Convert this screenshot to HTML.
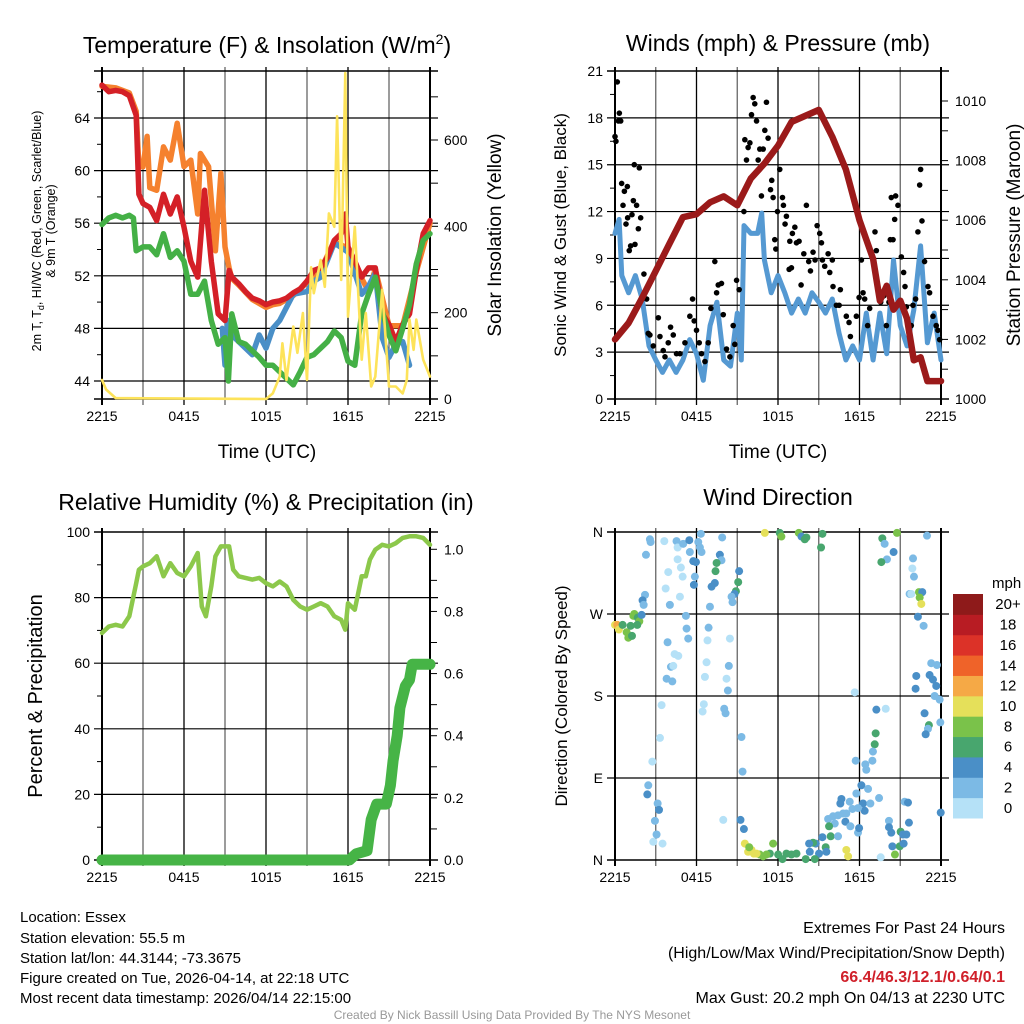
<!DOCTYPE html>
<html><head><meta charset="utf-8"><style>
body{margin:0;background:#fff;}
svg{display:block;font-family:"Liberation Sans",sans-serif;}
</style></head><body>
<svg id="s" width="1024" height="1024" viewBox="0 0 1024 1024" xmlns="http://www.w3.org/2000/svg">
<rect width="1024" height="1024" fill="#fff"/>
<text x="267" y="53" font-size="23" text-anchor="middle">Temperature (F) &amp; Insolation (W/m<tspan font-size="14" dy="-9">2</tspan><tspan dy="9">)</tspan></text>
<text x="778" y="51" font-size="23" text-anchor="middle">Winds (mph) &amp; Pressure (mb)</text>
<text x="266" y="510" font-size="23" text-anchor="middle">Relative Humidity (%) &amp; Precipitation (in)</text>
<text x="778" y="505" font-size="23" text-anchor="middle">Wind Direction</text>
<text x="267" y="458" font-size="19" text-anchor="middle">Time (UTC)</text>
<text x="778" y="458" font-size="19" text-anchor="middle">Time (UTC)</text>
<text transform="translate(41,231) rotate(-90)" font-size="12.5" text-anchor="middle">2m T, T<tspan font-size="9" dy="3">d</tspan><tspan dy="-3">, HI/WC (Red, Green, Scarlet/Blue)</tspan></text>
<text transform="translate(55,231) rotate(-90)" font-size="12.5" text-anchor="middle">&amp; 9m T (Orange)</text>
<text transform="translate(501,235) rotate(-90)" font-size="19" text-anchor="middle">Solar Insolation (Yellow)</text>
<text transform="translate(566,235) rotate(-90)" font-size="17" text-anchor="middle">Sonic Wind &amp; Gust (Blue, Black)</text>
<text transform="translate(1020,235) rotate(-90)" font-size="19" text-anchor="middle">Station Pressure (Maroon)</text>
<text transform="translate(42,696) rotate(-90)" font-size="20" text-anchor="middle">Percent &amp; Precipitation</text>
<text transform="translate(567,696) rotate(-90)" font-size="17" text-anchor="middle">Direction (Colored By Speed)</text>
<g font-size="15">
<text x="20" y="922">Location: Essex</text>
<text x="20" y="943">Station elevation: 55.5 m</text>
<text x="20" y="963">Station lat/lon: 44.3144; -73.3675</text>
<text x="20" y="983">Figure created on Tue, 2026-04-14, at 22:18 UTC</text>
<text x="20" y="1003">Most recent data timestamp: 2026/04/14 22:15:00</text>
</g>
<g font-size="16" text-anchor="end">
<text x="1005" y="933">Extremes For Past 24 Hours</text>
<text x="1005" y="958">(High/Low/Max Wind/Precipitation/Snow Depth)</text>
<text x="1005" y="982" fill="#d0202a" font-weight="bold">66.4/46.3/12.1/0.64/0.1</text>
<text x="1005" y="1003">Max Gust: 20.2 mph On 04/13 at 2230 UTC</text>
</g>
<text x="512" y="1019" font-size="12" fill="#999" text-anchor="middle">Created By Nick Bassill Using Data Provided By The NYS Mesonet</text>
</svg>
<script>
// ---------- data ----------
const xTickLabels=["2215","0415","1015","1615","2215"];
const tempHours=[0,0.5,1,1.5,2,2.5,2.7,3,3.5,4,4.5,5,5.5,6,6.5,7,7.5,8,8.5,9,9.3,9.5,10,10.5,11,11.5,12,12.5,13,13.5,14,14.5,15,15.5,16,16.5,17,17.5,17.8,18,18.5,19,19.5,20,20.5,21,21.5,22,22.5,23,23.5,24];
const airTemp=[66.5,66.0,66.1,66.0,65.7,64.2,58.2,57.5,57.2,56.2,58.2,56.7,58.0,55.7,53.1,51.9,58.5,53.1,49.1,48.6,52.4,51.9,51.4,50.8,50.3,50.1,49.8,50.0,50.1,50.3,50.7,51.0,51.6,52.4,52.6,53.4,54.7,55.2,56.7,54.2,53.1,51.9,52.6,52.6,49.1,48.3,47.0,48.3,49.1,52.4,55.2,56.2];
const temp9mHours=[0,1,2,2.5,2.7,3,3.3,3.5,4,4.5,5,5.5,6,6.5,7,7.2,7.8,8.3,8.7,9,9.3,9.5,10,11,12,12.5,13,14,15,16,17,18,19,19.5,20,21,22,23,24];
const temp9m=[66.4,66.3,65.9,64.5,60.3,60.3,62.6,58.7,58.5,61.8,60.8,63.6,60.3,60.8,56.7,61.3,60.3,53.9,59.8,54.2,52.6,51.8,51.3,50.2,49.6,49.8,49.9,50.5,51.5,52.5,54.6,54.1,51.8,50.8,52.5,48.2,48.2,52.3,56.0];
const wcHours=[8.8,9,9.2,9.5,10,10.5,11,11.5,12,12.5,13,13.5,14,15,15.5,16,16.5,17,18,19,19.5,20,20.5,21,21.5,22,22.5];
const windChill=[48.0,45.2,48.6,47.5,47.0,46.5,46.0,47.5,46.5,48.0,48.6,49.6,50.6,50.8,51.6,51.9,53.2,54.5,53.8,50.6,51.2,52.2,47.3,45.8,46.8,47.0,45.2];
const dewHours=[0,0.5,1,1.5,2,2.3,2.5,3,3.5,4,4.5,5,5.5,6,6.5,7,7.5,8,8.5,9,9.25,9.5,10,10.5,11,11.5,12,12.5,13,13.5,14,14.5,15,15.5,16,16.5,17,17.5,18,18.5,19,19.5,20,20.5,21,21.5,22,22.5,23,23.5,24];
const dewPoint=[55.9,56.4,56.6,56.4,56.6,56.4,53.9,54.2,54.2,53.6,55.2,53.4,53.9,53.1,50.6,50.6,51.6,48.6,46.8,47.3,44.0,49.1,47.0,46.8,46.3,45.8,45.2,45.2,44.7,44.2,43.7,44.7,45.8,46.0,46.5,47.0,47.8,47.3,45.5,45.2,49.1,50.6,51.9,49.3,47.5,46.3,48.0,49.8,52.9,54.7,55.2];
const solarHours=[0,0.3,1,12,12.5,13,13.2,13.5,14,14.3,14.7,15,15.3,15.5,16,16.3,16.6,17,17.2,17.5,17.8,18,18.5,19,19.3,19.7,20,20.5,21,21.5,22,22.3,22.5,22.8,23,23.5,24];
const solar=[44,22,2,0,13,52,129,44,168,107,199,44,305,245,322,260,430,399,655,276,755,191,399,91,199,29,52,253,29,29,13,44,184,114,184,91,52];
const presHours=[0,1,2,3,4,5,6,7,8,9,10,11,12,13,14,15,16,17,18,19,19.5,20,20.5,21,21.5,22,22.5,23,24];
const pressure=[1002.0,1002.55,1003.4,1004.3,1005.2,1006.1,1006.2,1006.6,1006.8,1006.5,1007.4,1007.9,1008.5,1009.3,1009.5,1009.7,1008.8,1007.7,1006.0,1004.7,1003.3,1003.8,1003.0,1003.3,1002.7,1001.3,1001.4,1000.6,1000.6];
const windHours=[0,0.3,0.5,1,1.5,2,2.5,3,3.5,4,4.5,5,5.5,6,6.5,7,7.5,8,8.5,9,9.3,9.5,10,10.5,10.8,11,11.5,12,12.5,13,13.5,14,14.5,15,15.5,16,16.5,17,17.5,18,18.5,19,19.5,20,20.5,21,21.5,22,22.5,23,23.5,24];
const windSpeed=[10.6,11.5,7.9,6.8,7.9,6.4,3.4,2.5,1.7,2.5,1.7,2.5,3.8,2.9,1.2,4.7,6.2,2.5,2.1,5.5,2.5,11.1,10.6,10.6,11.9,8.9,6.8,7.9,6.8,5.5,6.4,5.5,6.8,6.2,5.5,6.4,4.2,2.5,3.4,2.5,5.5,2.5,5.5,2.9,8.9,4.7,3.4,5.7,9.8,3.6,5.5,2.5];
const gustHours=[0,0.07,0.17,0.25,0.32,0.42,0.49,0.59,0.69,0.91,0.81,0.93,1.05,1.15,1.25,1.35,1.42,1.47,1.59,1.72,1.79,1.89,2.13,2.33,2.45,2.57,2.82,3.19,3.31,3.55,3.68,3.92,4.09,4.29,4.53,4.78,5.15,5.51,5.71,5.83,6.0,6.2,6.37,6.62,6.86,7.06,7.35,7.48,7.6,7.84,7.97,8.21,8.46,8.7,8.82,8.95,9.14,9.49,9.56,9.68,9.8,9.93,10.05,10.17,10.29,10.42,10.54,10.66,10.91,11.03,11.15,11.27,10.78,11.45,11.54,11.64,11.76,11.84,11.96,12.13,12.33,12.4,12.52,12.62,12.87,13.06,13.24,13.36,13.55,12.82,12.99,13.7,13.9,14.09,14.26,14.39,14.58,14.73,14.88,15.07,15.2,15.27,15.44,15.69,15.81,16.0,16.05,16.3,16.5,16.59,17.03,17.23,17.33,17.77,17.97,18.14,18.26,18.38,18.6,18.75,19.14,19.24,19.56,19.78,19.98,20.17,20.27,20.34,20.47,20.59,20.66,20.83,21.08,21.25,21.35,21.45,21.81,21.94,22.13,22.3,22.43,22.5,22.6,22.79,23.04,23.16,23.41,23.65,23.77,23.9];
const gustSpeed=[16.8,16.5,20.3,17.8,18.3,17.8,13.8,12.4,13.3,13.6,11.2,11.6,9.5,9.8,11.8,12.7,15.0,9.9,12.4,10.9,14.8,11.6,8.0,6.4,4.2,4.1,3.4,5.2,4.0,3.1,2.7,3.6,4.6,4.1,2.9,2.9,3.6,5.3,6.4,5.0,4.4,3.6,2.9,2.4,3.6,5.8,8.8,6.8,7.3,7.4,5.4,3.2,2.7,4.7,3.5,7.6,7.0,12.0,16.6,15.3,16.1,16.4,18.2,19.3,18.9,17.8,15.3,16.0,16.0,17.2,19.0,16.7,13.0,13.4,14.0,12.9,10.2,9.6,12.0,14.7,12.9,12.4,11.2,11.7,10.1,10.6,11.0,10.0,10.1,8.3,8.4,7.3,9.3,12.4,8.8,8.2,9.4,8.9,11.1,10.6,10.0,8.9,8.5,9.3,8.1,8.9,7.2,6.0,6.0,7.0,5.3,4.9,4.0,5.3,6.5,8.9,6.8,6.4,4.7,5.8,10.7,9.5,6.2,6.6,4.7,6.2,10.2,12.9,10.2,11.5,13.0,12.4,9.1,8.1,7.2,5.9,4.7,6.0,6.4,10.7,13.7,14.7,11.4,8.8,7.2,6.8,5.3,4.7,4.4,3.8];
const rhHours=[0,0.5,1,1.5,2,2.5,2.7,3,3.5,4,4.5,5,5.5,6,6.5,7,7.3,7.6,8,8.3,8.7,9,9.3,9.6,10,10.5,11,11.5,12,12.5,13,13.5,14,14.5,15,15.5,16,16.5,17,17.5,17.8,18,18.5,19,19.3,19.6,20,20.5,21,21.5,22,22.5,23,23.5,24];
const relHumidity=[69.2,71.2,71.7,71.2,74.3,84.4,88.5,89.5,90.5,92.6,86.5,90.5,87.5,86.5,89.5,93.6,77.3,74.3,83.4,92.6,95.6,95.6,95.6,88.5,86.5,86.0,85.5,86.0,84.4,83.4,84.9,83.4,79.3,77.3,76.3,77.3,78.3,77.3,74.3,73.2,70.2,78.3,76.3,86.5,86.5,91.6,94.6,96.1,95.6,96.6,98.2,98.7,98.7,98.2,96.1];
const precipHours=[0,18.1,18.6,19.4,19.7,20.1,20.8,21.1,21.3,21.6,21.8,22.2,22.5,22.7,24];
const precip=[0,0,0.02,0.03,0.13,0.18,0.18,0.24,0.32,0.40,0.49,0.56,0.58,0.63,0.63];
const dirHours=[2.57,2.62,3.63,4.53,4.61,5.02,5.47,6.13,6.32,6.25,6.37,7.89,2.28,5.51,5.76,5.96,4.61,4.85,3.92,4.98,5.88,5.81,3.73,4.78,4.04,2.21,2.03,2.11,7.72,7.84,7.48,7.40,9.14,9.07,8.90,8.80,8.58,8.65,7.35,7.11,6.99,5.22,5.27,5.39,6.89,6.81,8.46,3.87,4.39,4.66,4.12,4.29,6.74,8.38,3.80,4.22,6.62,8.21,8.31,3.43,6.54,6.45,8.04,8.14,3.31,2.75,9.31,9.39,2.45,2.38,3.14,3.24,2.94,3.06,2.82,3.50,7.97,9.24,9.49,11.03,12.13,12.25,13.53,13.73,13.97,14.09,15.27,15.17,19.68,19.85,20.76,20.51,20.02,19.61,22.97,21.94,21.89,22.01,21.69,21.81,22.38,22.62,22.43,22.55,22.30,22.72,0.0,0.17,0.29,0.56,0.86,0.98,1.15,1.35,1.42,1.67,1.79,1.64,1.96,1.25,23.28,23.70,23.16,23.41,23.65,23.53,23.90,22.18,22.13,22.79,23.11,23.04,22.87,23.95,19.93,19.24,19.19,19.12,18.99,18.95,17.65,17.72,18.43,18.50,18.14,18.63,17.77,18.26,18.38,17.89,18.80,19.44,17.28,16.67,16.59,17.03,17.48,16.79,16.42,16.05,16.18,16.96,17.33,17.89,17.97,15.69,15.76,15.88,16.42,15.27,15.51,15.56,14.78,14.58,14.29,14.34,15.02,14.71,14.04,13.36,12.99,12.62,12.33,12.01,11.64,11.40,11.15,10.91,10.66,10.42,10.05,9.80,9.56,9.88,10.22,17.03,17.16,19.56,20.17,20.17,20.34,20.42,20.61,20.96,21.03,21.20,21.25,21.45,21.32,21.57,21.64,23.98];
const dirDeg=[352,349,350,350,343,347,351,349,358,343,338,354,335,338,328,327,330,321,316,311,311,302,298,289,280,291,285,280,335,329,326,317,317,305,295,292,289,283,304,300,278,268,254,243,255,241,243,239,226,224,212,213,217,213,199,196,201,199,186,170,171,163,166,161,134,108,135,97,82,72,62,55,43,28,20,18,44,44,34,359,359,355,359,355,352,354,358,343,353,347,359,338,330,327,356,331,320,311,292,292,294,294,288,281,267,257,258,258,253,258,250,244,257,268,270,266,262,258,269,246,216,214,203,198,191,180,176,202,188,161,148,144,138,151,166,165,139,127,119,109,184,109,105,99,82,78,73,62,54,57,62,68,64,67,62,51,56,51,49,48,40,42,37,30,35,45,37,26,26,25,14,9,18,19,18,9,7,1,1,7,6,7,1,6,18,7,6,4,6,7,11,9,18,14,7,11,4,3,43,36,30,15,6,15,31,28,18,28,64,63,41,52];
const dirSpeed=[3,3,1,3,1,3,5,3,3,3,3,3,3,3,5,5,1,1,1,1,3,5,1,1,3,3,5,3,5,3,7,7,5,7,7,5,3,3,5,5,3,3,3,3,3,1,1,3,1,1,3,1,1,3,3,3,1,1,3,1,1,1,3,3,1,1,3,3,3,5,3,5,3,3,1,1,1,5,5,11,7,9,9,5,7,7,7,7,7,3,9,5,3,7,3,3,1,3,3,1,9,5,9,11,5,3,11,13,11,7,9,9,7,9,9,7,9,7,5,7,3,3,5,5,5,3,3,5,5,5,7,3,5,3,1,5,7,7,3,3,1,3,3,3,5,3,3,5,5,3,3,3,3,5,5,3,3,3,3,3,3,5,3,3,5,3,7,7,3,5,7,5,5,7,5,5,5,7,7,7,7,7,7,7,9,7,9,9,9,11,11,11,11,9,11,11,11,1,3,5,5,5,9,7,7,5,5,5,3,5,5,5,1,5];
const speedColors=["#b5e1f7","#7cbae5","#4a8fc7","#48a66e","#7ac24a","#e5e05a","#f5a946","#ef6329","#dc3228","#b81c23","#8e1a1a"];
const speedLabels=["0","2","4","6","8","10","12","14","16","18","20+"];

// ---------- drawing ----------
const S=document.getElementById('s');
const NS='http://www.w3.org/2000/svg';
function mk(tag,attrs,parent){const e=document.createElementNS(NS,tag);for(const k in attrs)e.setAttribute(k,attrs[k]);(parent||S).appendChild(e);return e;}
function lin(d0,d1,p0,p1){return v=>p0+(v-d0)*(p1-p0)/(d1-d0);}

const P1={l:102,r:430,t:71,b:399};
const P2={l:615,r:941,t:71,b:399};
const P3={l:102,r:430,t:532,b:860};
const P4={l:615,r:941,t:532,b:860};

function frame(P,name,xLabels,hLines){
  const g=mk('g',{});
  
  
  const xs=lin(0,24,P.l,P.r);
  for(let h=0;h<=24;h+=3){
    const x=xs(h);
    const ln=mk('line',{x1:x,x2:x,y1:P.t-4,y2:P.b+6,stroke:(h%6==0)?'#000':'#666','stroke-width':1.3},g);
    
    
  }
  hLines.forEach(y=>{const ln=mk('line',{x1:P.l-8,x2:P.r+8,y1:y,y2:y,stroke:'#000','stroke-width':1.2},g);
    
    });
  mk('line',{x1:P.l,x2:P.l,y1:P.t-4,y2:P.b+6,stroke:'#000','stroke-width':2},g);
  mk('line',{x1:P.r,x2:P.r,y1:P.t-4,y2:P.b+6,stroke:'#000','stroke-width':2},g);
  mk('line',{x1:P.l-8,x2:P.r+8,y1:P.t,y2:P.t,stroke:'#000','stroke-width':1.5},g);
  mk('line',{x1:P.l-8,x2:P.r+8,y1:P.b,y2:P.b,stroke:'#000','stroke-width':1.5},g);
  if(xLabels){xLabels.forEach((t,i)=>{const tx=mk('text',{x:xs(i*6),y:P.b+22,'font-size':14,'text-anchor':'middle'},g);tx.textContent=t;
    
    });}
  return xs;
}
function yTicks(vals,labels,ys,x,anchor,minor){
  vals.forEach((v,i)=>{const t=mk('text',{x:x,y:ys(v)+5,'font-size':14,'text-anchor':anchor});t.textContent=labels[i];
    
    });
}
function tickMarks(vals,ys,x0,x1){vals.forEach(v=>mk('line',{x1:x0,x2:x1,y1:ys(v),y2:ys(v),stroke:'#000','stroke-width':1}));}
function path(xs,ys,X,Y,attrs,name){
  let d='';for(let i=0;i<X.length;i++){d+=(i?'L':'M')+xs(X[i]).toFixed(1)+' '+ys(Y[i]).toFixed(1);}
  const p=mk('path',Object.assign({d:d,fill:'none','stroke-linejoin':'round','stroke-linecap':'round'},attrs));
  
  
  return p;
}

// Panel 1
const t1=lin(44,64,381,118);
const s1=lin(0,600,399,140);
const xs1=frame(P1,'temperature',xTickLabels,[64,60,56,52,48,44].map(t1));
yTicks([44,48,52,56,60,64],["44","48","52","56","60","64"],t1,P1.l-12,'end');
yTicks([0,200,400,600],["0","200","400","600"],s1,P1.r+14,'start');
tickMarks([0,100,200,300,400,500,600,700],s1,P1.r,P1.r+8);
tickMarks([46,50,54,58,62,66],t1,P1.l-5,P1.l);
path(xs1,t1,temp9mHours,temp9m,{stroke:'#f5812e','stroke-width':5.5},'9m-temperature-line');
path(xs1,t1,wcHours,windChill,{stroke:'#4a8fc7','stroke-width':5.5},'wind-chill-line');
path(xs1,t1,tempHours,airTemp,{stroke:'#d42027','stroke-width':5.5},'2m-temperature-line');
path(xs1,t1,dewHours,dewPoint,{stroke:'#44b046','stroke-width':5.5},'dew-point-line');
path(xs1,s1,solarHours,solar,{stroke:'#fde35a','stroke-width':2.6},'solar-insolation-line');

// Panel 2
const w2=lin(0,21,399,71);
const p2=lin(1000,1010,399,101);
const xs2=frame(P2,'winds',xTickLabels,[3,6,9,12,15,18].map(w2));
yTicks([0,3,6,9,12,15,18,21],["0","3","6","9","12","15","18","21"],w2,P2.l-12,'end');
yTicks([1000,1002,1004,1006,1008,1010],["1000","1002","1004","1006","1008","1010"],p2,P2.r+14,'start');
tickMarks([1000,1001,1002,1003,1004,1005,1006,1007,1008,1009,1010],p2,P2.r,P2.r+7);
tickMarks([1.5,4.5,7.5,10.5,13.5,16.5,19.5],w2,P2.l-5,P2.l);
path(xs2,w2,windHours,windSpeed,{stroke:'#5599d2','stroke-width':5},'sonic-wind-line');
gustHours.forEach((h,i)=>{const c=mk('circle',{cx:xs2(h),cy:w2(gustSpeed[i]),r:2.8,fill:'#000'});
  
  });
path(xs2,p2,presHours,pressure,{stroke:'#9b1a1a','stroke-width':6.5},'pressure-line');

// Panel 3
const r3=lin(0,100,860,532);
const q3=lin(0,1,860,549.3);
const xs3=frame(P3,'humidity',xTickLabels,[80,60,40,20].map(r3));
yTicks([0,20,40,60,80,100],["0","20","40","60","80","100"],r3,P3.l-12,'end');
yTicks([0,0.2,0.4,0.6,0.8,1.0],["0.0","0.2","0.4","0.6","0.8","1.0"],q3,P3.r+14,'start');
tickMarks([0,0.1,0.2,0.3,0.4,0.5,0.6,0.7,0.8,0.9,1.0],q3,P3.r,P3.r+7);
tickMarks([10,30,50,70,90],r3,P3.l-5,P3.l);
path(xs3,r3,rhHours,relHumidity,{stroke:'#8cc84b','stroke-width':4.5},'relative-humidity-line');
path(xs3,q3,precipHours,precip,{stroke:'#46b446','stroke-width':11},'precipitation-line');

// Panel 4
const d4=lin(0,360,860,532);
const xs4=frame(P4,'wind-direction',xTickLabels,[270,180,90].map(d4));
yTicks([0,90,180,270,360],["N","E","S","W","N"],d4,P4.l-12,'end');
dirHours.forEach((h,i)=>{
  const idx=Math.min(10,Math.floor(dirSpeed[i]/2));
  const c=mk('circle',{cx:xs4(h),cy:d4(dirDeg[i]),r:4,fill:speedColors[idx]});
  
  
});
// colorbar
const cb=mk('g',{});


const cbTop=594,cbBot=818,cbH=(cbBot-cbTop)/11;
speedColors.forEach((col,i)=>{
  const y=cbBot-(i+1)*cbH;
  const r=mk('rect',{x:953,y:y,width:30,height:cbH+0.5,fill:col},cb);
  
  
  const t=mk('text',{x:1008,y:y+cbH/2+5,'font-size':15,'text-anchor':'middle'},cb);
  t.textContent=speedLabels[i];
  
  
});
const mu=mk('text',{x:992,y:588,'font-size':15},cb);
mu.textContent='mph';


</script>
</body></html>
